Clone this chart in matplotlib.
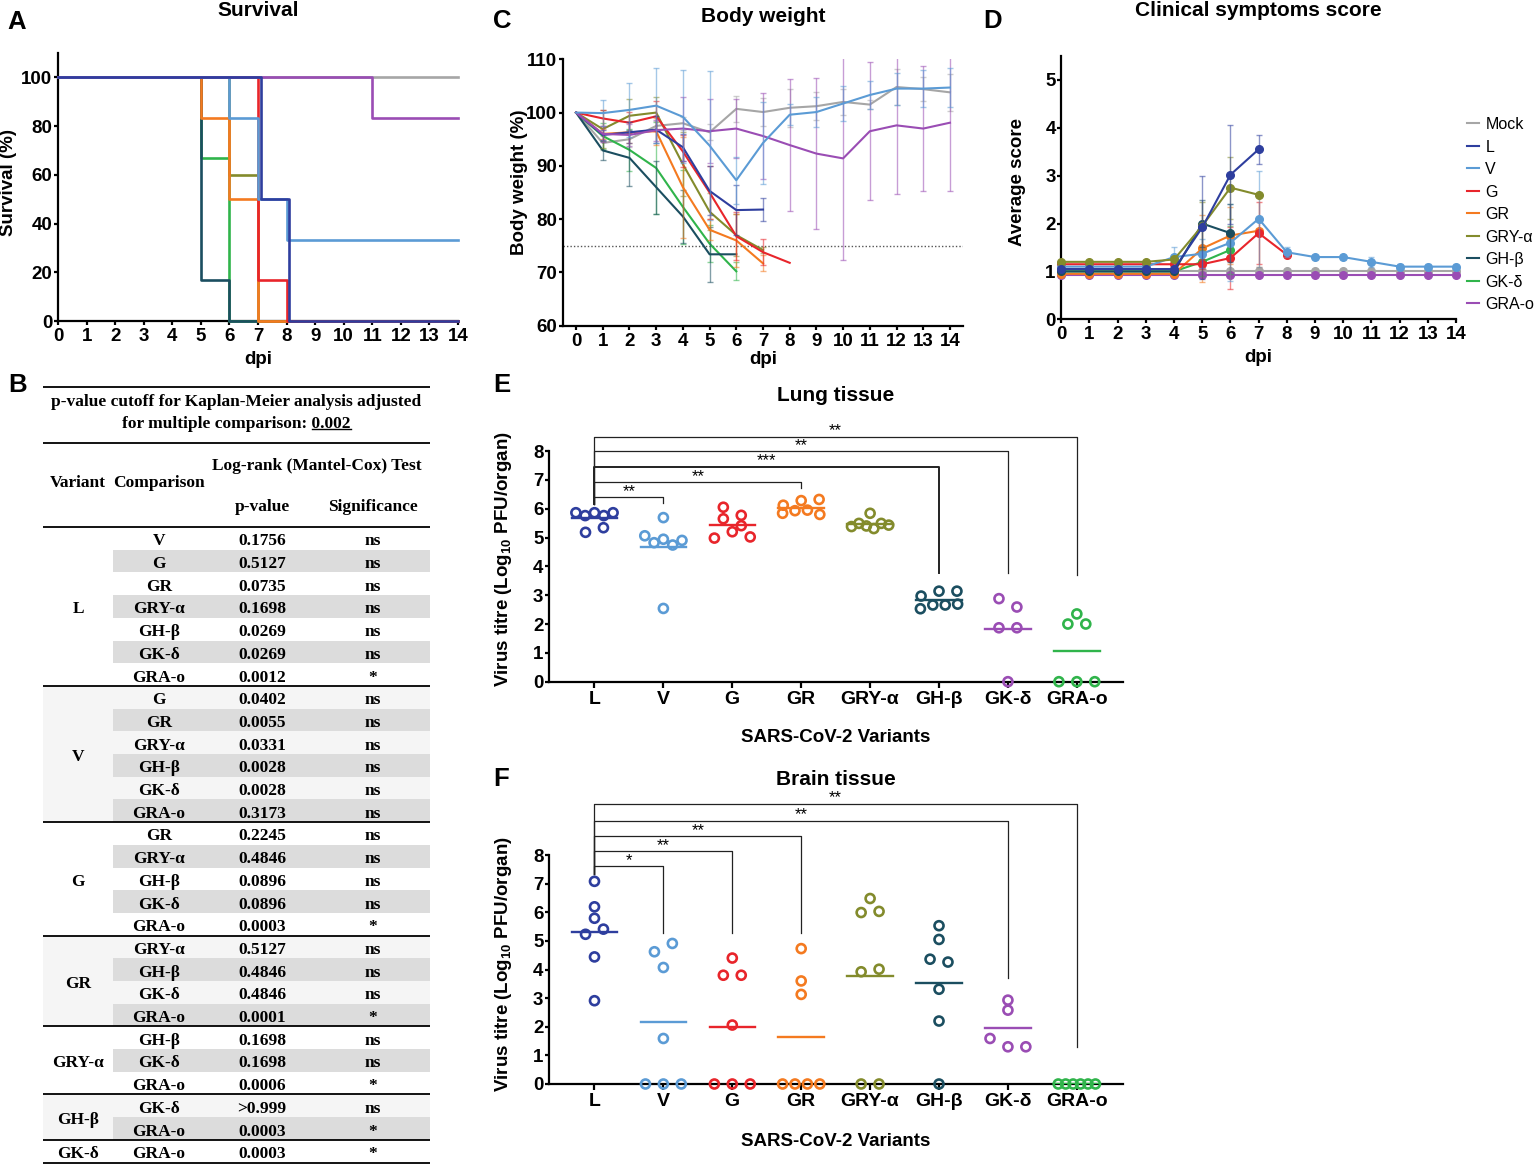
import matplotlib
matplotlib.use('Agg')
import matplotlib.pyplot as plt
from matplotlib.colors import to_rgba
from matplotlib.lines import Line2D
from matplotlib.patches import Rectangle
import numpy as np

plt.rcParams['font.family'] = ['Liberation Sans', 'DejaVu Sans']
plt.rcParams['font.weight'] = 'bold'
plt.rcParams['axes.labelweight'] = 'bold'
plt.rcParams['mathtext.fontset'] = 'custom'
plt.rcParams['mathtext.rm'] = 'Liberation Sans:bold'
plt.rcParams['mathtext.bf'] = 'Liberation Sans:bold'
plt.rcParams['mathtext.default'] = 'bf'

# ---------------------------------------------------------------- data
variants = ['Mock', 'L', 'V', 'G', 'GR', 'GRY-α', 'GH-β', 'GK-δ', 'GRA-o']
colors = ['#A6A6A6', '#2E3E9E', '#5B9BD5', '#E8252B', '#F47A20',
          '#838B2C', '#1B4E60', '#30B44B', '#9A4DB4']
days = list(range(15))

# A: survival (%) - day of each step and survival after it
surv_day_mock = [0];        surv_pct_mock = [100]
surv_day_L = [0, 7, 8];     surv_pct_L = [100, 50, 0]
surv_day_V = [0, 6, 7, 8];  surv_pct_V = [100, 83.3, 50, 33.3]
surv_day_G = [0, 7, 8];     surv_pct_G = [100, 16.7, 0]
surv_day_GR = [0, 5, 6, 7]; surv_pct_GR = [100, 83.3, 50, 0]
surv_day_GRY = [0, 6, 7];   surv_pct_GRY = [100, 60, 0]
surv_day_GH = [0, 5, 6];    surv_pct_GH = [100, 16.7, 0]
surv_day_GK = [0, 5, 6];    surv_pct_GK = [100, 66.7, 0]
surv_day_GRA = [0, 11];     surv_pct_GRA = [100, 83.3]

# C: body weight (%) mean and SD per dpi
bw_mock = [100, 94.3, 95.0, 97.5, 98.0, 96.3, 100.7, 100.1, 100.9, 101.2, 102.0, 101.5, 104.8, 104.4, 103.8]
bw_mock_sd = [0, 1.3, 1.5, 1.0, 1.2, 1.5, 2.5, 2.7, 3.6, 2.6, 2.4, 0.8, 3.3, 2.2, 3.5]
bw_L = [100, 95.8, 96.3, 96.8, 93.5, 85.3, 81.7, 81.8]
bw_L_sd = [0, 1.0, 2.0, 2.5, 2.5, 4.6, 4.7, 2.1]
bw_V = [100, 99.9, 100.5, 101.3, 99.2, 93.8, 87.3, 94.3, 99.6, 100.1, 101.7, 103.3, 104.5, 104.5, 104.7]
bw_V_sd = [0, 2.5, 5.0, 7.0, 8.7, 14.0, 4.4, 7.7, 2.0, 2.8, 3.2, 2.6, 3.0, 3.4, 3.6]
bw_G = [100, 98.9, 98.1, 99.3, 92.7, 85.0, 76.8, 73.8, 71.8]
bw_G_sd = [0, 1.5, 2.0, 2.8, 3.0, 5.0, 4.5, 2.4, 0]
bw_GR = [100, 96.0, 96.3, 96.5, 86.0, 78.0, 76.0, 71.7]
bw_GR_sd = [0, 1.0, 2.0, 2.5, 9.5, 2.0, 5.0, 1.5]
bw_GRY = [100, 96.9, 99.4, 100.0, 90.3, 81.4, 77.0, 74.2]
bw_GRY_sd = [0, 3.5, 3.2, 3.0, 6.0, 3.5, 4.0, 0.5]
bw_GH = [100, 92.9, 91.5, 86.0, 80.5, 73.4, 73.4]
bw_GH_sd = [0, 1.8, 5.3, 5.0, 5.0, 5.2, 0]
bw_GK = [100, 95.6, 93.0, 89.6, 82.3, 75.4, 70.2]
bw_GK_sd = [0, 2.5, 4.0, 8.6, 7.0, 3.5, 1.7]
bw_GRA = [100, 96.0, 95.8, 96.7, 97.0, 96.5, 97.0, 95.6, 93.9, 92.3, 91.4, 96.5, 97.6, 97.0, 98.1]
bw_GRA_sd = [0, 1.5, 2.0, 2.0, 6.0, 6.0, 5.5, 8.0, 12.4, 14.2, 19.0, 13.0, 12.8, 11.8, 12.9]
bw_cutoff = 75

# D: clinical score mean and SD per dpi
cs_mock = [1.0, 1.0, 1.0, 1.0, 1.0, 1.0, 1.0, 1.0, 1.0, 1.0, 1.0, 1.0, 1.0, 1.0, 1.0]
cs_mock_sd = [0, 0, 0, 0, 0, 0, 0, 0, 0, 0, 0, 0, 0, 0, 0]
cs_L = [1.05, 1.05, 1.05, 1.05, 1.05, 1.92, 3.02, 3.55]
cs_L_sd = [0, 0, 0, 0, 0.05, 1.08, 1.03, 0.3]
cs_V = [1.1, 1.1, 1.1, 1.1, 1.3, 1.37, 1.6, 2.1, 1.4, 1.3, 1.3, 1.2, 1.1, 1.1, 1.1]
cs_V_sd = [0, 0, 0, 0, 0.2, 0.3, 0.8, 1.0, 0.1, 0.05, 0.05, 0.1, 0.05, 0.05, 0.05]
cs_G = [1.15, 1.15, 1.15, 1.15, 1.15, 1.15, 1.28, 1.8, 1.35]
cs_G_sd = [0, 0, 0, 0, 0, 0.1, 0.65, 0.65, 0.05]
cs_GR = [0.95, 0.95, 0.95, 0.95, 0.95, 1.48, 1.75, 1.85]
cs_GR_sd = [0, 0, 0, 0, 0, 0.7, 0.6, 0.75]
cs_GRY = [1.2, 1.2, 1.2, 1.2, 1.25, 1.95, 2.75, 2.6]
cs_GRY_sd = [0, 0, 0, 0, 0.05, 0.5, 0.65, 0]
cs_GH = [1.0, 1.0, 1.0, 1.0, 1.0, 2.0, 1.8]
cs_GH_sd = [0, 0, 0, 0, 0, 0.5, 0.6]
cs_GK = [1.0, 1.0, 1.0, 1.0, 1.0, 1.2, 1.45]
cs_GK_sd = [0, 0, 0, 0, 0, 0.3, 0.5]
cs_GRA = [0.92, 0.92, 0.92, 0.92, 0.92, 0.92, 0.92, 0.92, 0.92, 0.92, 0.92, 0.92, 0.92, 0.92, 0.92]
cs_GRA_sd = [0, 0, 0, 0, 0, 0, 0, 0, 0, 0, 0, 0, 0, 0, 0]

# B: log-rank table
tbl_groups = ['L', 'V', 'G', 'GR', 'GRY-α', 'GH-β', 'GK-δ']
tbl_comparisons = [['V', 'G', 'GR', 'GRY-α', 'GH-β', 'GK-δ', 'GRA-o'],
                   ['G', 'GR', 'GRY-α', 'GH-β', 'GK-δ', 'GRA-o'],
                   ['GR', 'GRY-α', 'GH-β', 'GK-δ', 'GRA-o'],
                   ['GRY-α', 'GH-β', 'GK-δ', 'GRA-o'],
                   ['GH-β', 'GK-δ', 'GRA-o'],
                   ['GK-δ', 'GRA-o'],
                   ['GRA-o']]
tbl_pvalues = [['0.1756', '0.5127', '0.0735', '0.1698', '0.0269', '0.0269', '0.0012'],
               ['0.0402', '0.0055', '0.0331', '0.0028', '0.0028', '0.3173'],
               ['0.2245', '0.4846', '0.0896', '0.0896', '0.0003'],
               ['0.5127', '0.4846', '0.4846', '0.0001'],
               ['0.1698', '0.1698', '0.0006'],
               ['>0.999', '0.0003'],
               ['0.0003']]
tbl_signif = [['ns', 'ns', 'ns', 'ns', 'ns', 'ns', '*'],
              ['ns', 'ns', 'ns', 'ns', 'ns', 'ns'],
              ['ns', 'ns', 'ns', 'ns', '*'],
              ['ns', 'ns', 'ns', '*'],
              ['ns', 'ns', '*'],
              ['ns', '*'],
              ['*']]

# E / F: virus titres (log10 PFU/organ)
categories = ['L', 'V', 'G', 'GR', 'GRY-α', 'GH-β', 'GK-δ', 'GRA-o']
cat_colors = ['#2E3E9E', '#5B9BD5', '#E8252B', '#F47A20', '#838B2C', '#1B4E60', '#9A4DB4', '#30B44B']
lung_L = [5.86, 5.76, 5.86, 5.76, 5.86, 5.18, 5.34]
lung_V = [5.06, 4.82, 4.94, 4.74, 4.90, 5.69, 2.54]
lung_G = [6.05, 5.65, 4.98, 5.20, 5.77, 5.41, 5.02]
lung_GR = [5.84, 6.12, 5.93, 6.28, 5.95, 6.32, 5.80]
lung_GRY = [5.38, 5.49, 5.84, 5.40, 5.31, 5.49, 5.43]
lung_GH = [2.97, 2.53, 2.66, 2.66, 3.14, 3.14, 2.69]
lung_GK = [2.88, 2.59, 1.87, 1.87, 0.0]
lung_GRA = [2.0, 2.35, 2.0, 0.0, 0.0, 0.0]
brain_L = [7.08, 6.19, 5.79, 5.23, 5.41, 4.44, 2.91]
brain_V = [4.62, 4.91, 4.07, 1.59, 0.0, 0.0, 0.0]
brain_G = [4.40, 3.80, 3.80, 2.06, 0.0, 0.0, 0.0]
brain_GR = [4.73, 3.60, 3.13, 0.0, 0.0, 0.0, 0.0]
brain_GRY = [6.48, 5.99, 6.03, 3.92, 4.01, 0.0, 0.0]
brain_GH = [5.53, 5.05, 4.36, 4.26, 3.31, 2.20, 0.0]
brain_GK = [2.93, 2.58, 1.59, 1.30, 1.30]
brain_GRA = [0.0, 0.0, 0.0, 0.0, 0.0, 0.0]

# significance brackets (vs L)
lung_br_target = [1, 3, 5, 6, 7]
lung_br_height = [6.39, 6.91, 7.46, 8.0, 8.5]
lung_br_drop = [6.2, 6.7, 3.76, 3.76, 3.7]
lung_br_label = ['**', '**', '***', '**', '**']
brain_br_target = [1, 2, 3, 6, 7]
brain_br_height = [7.6, 8.13, 8.67, 9.2, 9.79]
brain_br_drop = [5.28, 5.28, 5.28, 3.72, 1.28]
brain_br_label = ['*', '**', '**', '**', '**']

# ---------------------------------------------------------------- layout helpers
W, H = 1535, 1165
fig = plt.figure(figsize=(W / 100, H / 100), dpi=100)
TICK_FS = 13.5
LAB_FS = 13.5


def add_ax(l, t, r, b):
    return fig.add_axes([l / W, 1 - b / H, (r - l) / W, (b - t) / H])


def fx(x):
    return x / W


def fy(y):
    return 1 - y / H


def style(ax, fs=TICK_FS):
    for s in ['top', 'right']:
        ax.spines[s].set_visible(False)
    for s in ['left', 'bottom']:
        ax.spines[s].set_linewidth(1.6)
    ax.tick_params(axis='both', width=1.6, length=3, labelsize=fs, direction='out')
    ax.tick_params(axis='x', pad=2.0)
    ax.tick_params(axis='y', pad=1.0)


def set_labels(ax, xl, yl, xc, yc, fs=LAB_FS):
    ax.set_xlabel(xl, fontsize=fs, va='center')
    ax.set_ylabel(yl, fontsize=fs, va='center')
    bb = ax.get_position()
    l, b, w, h = bb.x0 * W, (1 - bb.y1) * H, bb.width * W, bb.height * H
    ax.xaxis.set_label_coords((xc[0] - l) / w, 1 - (xc[1] - b) / h)
    ax.yaxis.set_label_coords((yc[0] - l) / w, 1 - (yc[1] - b) / h)


# table axes (pixel coordinates), drawn first
axT = fig.add_axes([0, 0, 1, 1])
axT.set_xlim(0, W)
axT.set_ylim(H, 0)
axT.axis('off')

# panel letters & titles
for lab, x, y in [('A', 7, 29), ('B', 8, 392), ('C', 493, 28), ('D', 983, 28), ('E', 493, 392), ('F', 493, 786)]:
    fig.text(fx(x), fy(y), lab, fontsize=18.5, fontweight='bold', ha='left', va='baseline')
for t, x, y in [('Survival', 258, 16.5), ('Body weight', 763, 21.5), ('Clinical symptoms score', 1258, 16.5),
                ('Lung tissue', 836, 401.5), ('Brain tissue', 836, 785)]:
    fig.text(fx(x), fy(y), t, fontsize=15, fontweight='bold', ha='center', va='baseline')

# ---------------------------------------------------------------- A: survival
axA = add_ax(58, 53, 458, 321)
surv = [(surv_day_mock, surv_pct_mock), (surv_day_L, surv_pct_L), (surv_day_V, surv_pct_V),
        (surv_day_G, surv_pct_G), (surv_day_GR, surv_pct_GR), (surv_day_GRY, surv_pct_GRY),
        (surv_day_GH, surv_pct_GH), (surv_day_GK, surv_pct_GK), (surv_day_GRA, surv_pct_GRA)]
nudge = {1: 0.09}
draw_order = [0, 7, 6, 5, 4, 3, 2, 8, 1]
for z, i in enumerate(draw_order):
    d, p = surv[i]
    x = np.array(d + [14], float)
    x[1:-1] += nudge.get(i, 0.0)
    y = list(p) + [p[-1]]
    axA.plot(x, y, drawstyle='steps-post', color=colors[i], lw=1.9, clip_on=False, zorder=3 + z)
axA.set_xlim(0, 14)
axA.set_ylim(0, 110)
axA.set_xticks(days)
axA.set_yticks([0, 20, 40, 60, 80, 100])
style(axA)
set_labels(axA, 'dpi', 'Survival (%)', (258, 359), (9, 182))

# ---------------------------------------------------------------- C: body weight
axC = add_ax(562.7, 59.3, 963.3, 325.7)
bw = [(bw_mock, bw_mock_sd), (bw_L, bw_L_sd), (bw_V, bw_V_sd), (bw_G, bw_G_sd), (bw_GR, bw_GR_sd),
      (bw_GRY, bw_GRY_sd), (bw_GH, bw_GH_sd), (bw_GK, bw_GK_sd), (bw_GRA, bw_GRA_sd)]


def draw_series(ax, y, sd, c, z, marker=None, ms=0):
    x = np.arange(len(y))
    y = np.asarray(y, float)
    sd = np.asarray(sd, float)
    m = sd > 0
    if m.any():
        ax.errorbar(x[m], y[m], yerr=sd[m], fmt='none', ecolor=to_rgba(c, 0.55),
                    elinewidth=1.0, capsize=2.5, capthick=1.0, zorder=z - 0.5)
    ax.plot(x, y, color=c, lw=1.5, marker=marker, ms=ms, zorder=z, clip_on=False)


for z, i in enumerate([0, 7, 6, 5, 4, 3, 1, 8, 2]):
    draw_series(axC, bw[i][0], bw[i][1], colors[i], 3 + z)
axC.axhline(bw_cutoff, color='#555555', lw=1.0, ls=(0, (1, 1.5)), zorder=1)
axC.set_xlim(-0.5, 14.5)
axC.set_ylim(60, 110)
axC.set_xticks(days)
axC.set_yticks([60, 70, 80, 90, 100, 110])
style(axC)
set_labels(axC, 'dpi', 'Body weight (%)', (763, 360), (519, 182))

# ---------------------------------------------------------------- D: clinical score
axD = add_ax(1061.3, 56, 1456, 319.3)
cs = [(cs_mock, cs_mock_sd), (cs_L, cs_L_sd), (cs_V, cs_V_sd), (cs_G, cs_G_sd), (cs_GR, cs_GR_sd),
      (cs_GRY, cs_GRY_sd), (cs_GH, cs_GH_sd), (cs_GK, cs_GK_sd), (cs_GRA, cs_GRA_sd)]
for z, i in enumerate([0, 8, 7, 4, 3, 2, 6, 5, 1]):
    draw_series(axD, cs[i][0], cs[i][1], colors[i], 3 + z, marker='o', ms=5.5)
axD.set_xlim(0, 14)
axD.set_ylim(0, 5.5)
axD.set_xticks(days)
axD.set_yticks([0, 1, 2, 3, 4, 5])
style(axD)
set_labels(axD, 'dpi', 'Average score', (1258, 358), (1018, 182))
handles = [Line2D([], [], color=c, lw=1.5) for c in colors]
fig.legend(handles, variants, loc='upper left', bbox_to_anchor=(fx(1467), fy(117)),
           frameon=False, borderaxespad=0, borderpad=0, handlelength=0.75, handletextpad=0.4,
           labelspacing=0.47, prop={'size': 11.5, 'weight': 'normal'})

# ---------------------------------------------------------------- B: table
serif = ['Liberation Serif', 'DejaVu Serif']
tfs = 12.5
x0, x1, xc0 = 43, 430, 113
col_var, col_cmp, col_p, col_sig = 78, 159, 262, 373
rule_lw = 1.3
for yy in [387, 443, 527]:
    axT.plot([x0, x1], [yy, yy], color='black', lw=rule_lw, solid_capstyle='butt')
axT.text(236.5, 400, 'p-value cutoff for Kaplan-Meier analysis adjusted', family=serif,
         fontsize=tfs, fontweight='bold', ha='center', va='center_baseline')
t2 = axT.text(236.5, 422, 'for multiple comparison: 0.002', family=serif,
              fontsize=tfs, fontweight='bold', ha='center', va='center_baseline')
axT.text(317, 464, 'Log-rank (Mantel-Cox) Test', family=serif, fontsize=tfs, fontweight='bold',
         ha='center', va='center_baseline')
axT.text(col_var, 481, 'Variant', family=serif, fontsize=tfs, fontweight='bold', ha='center', va='center_baseline')
axT.text(col_cmp, 481, 'Comparison', family=serif, fontsize=tfs, fontweight='bold', ha='center', va='center_baseline')
axT.text(col_p, 505, 'p-value', family=serif, fontsize=tfs, fontweight='bold', ha='center', va='center_baseline')
axT.text(col_sig, 505, 'Significance', family=serif, fontsize=tfs, fontweight='bold', ha='center', va='center_baseline')

row_h = 22.7
ytop = 527
for g, (grp, cmps, ps, sg) in enumerate(zip(tbl_groups, tbl_comparisons, tbl_pvalues, tbl_signif)):
    n = len(cmps)
    if g % 2 == 1:
        axT.add_patch(Rectangle((x0, ytop), x1 - x0, n * row_h, facecolor='#F5F5F5', edgecolor='none', zorder=0))
    for r in range(n):
        yr = ytop + (r + 0.5) * row_h
        if r % 2 == 1:
            axT.add_patch(Rectangle((xc0, ytop + r * row_h), x1 - xc0, row_h, facecolor='#DCDCDC',
                                    edgecolor='none', zorder=0.5))
        for txt, xx in [(cmps[r], col_cmp), (ps[r], col_p), (sg[r], col_sig)]:
            axT.text(xx, yr + 1, txt, family=serif, fontsize=tfs, fontweight='bold', ha='center',
                     va='center_baseline', zorder=2)
    axT.text(col_var, ytop + n * row_h / 2 + 1, grp, family=serif, fontsize=tfs, fontweight='bold',
             ha='center', va='center_baseline', zorder=2)
    ytop += n * row_h
    axT.plot([x0, x1], [ytop, ytop], color='black', lw=rule_lw, solid_capstyle='butt', zorder=3)

# underline "0.002"
fig.canvas.draw()
ren = fig.canvas.get_renderer()
bb2 = t2.get_window_extent(ren)
tmp = axT.text(0, 0, '0.002', family=serif, fontsize=tfs, fontweight='bold')
wpx = tmp.get_window_extent(ren).width
tmp.remove()
right_px = bb2.x1
uy = H - (bb2.y0 + 3.5)
axT.plot([right_px - wpx, right_px], [uy, uy], color='black', lw=1.0)

# ---------------------------------------------------------------- E / F: titres


def swarm_offsets(vals, thresh=0.33, span=0.54, maxstep=0.26):
    vals = np.asarray(vals, float)
    order = sorted(range(len(vals)), key=lambda k: -vals[k])
    rows = []
    for k in order:
        if rows and vals[rows[-1][0]] - vals[k] <= thresh:
            rows[-1].append(k)
        else:
            rows.append([k])
    offs = np.zeros(len(vals))
    for r in rows:
        r = sorted(r)
        n = len(r)
        if n > 1:
            step = min(maxstep, span / (n - 1))
            for j, k in enumerate(r):
                offs[k] = (j - (n - 1) / 2) * step
    return offs


def titre_panel(ax, groups, br_t, br_h, br_d, br_lab, br_lw, l_bottom, xlab_y, ylab_y):
    for i, vals in enumerate(groups):
        offs = swarm_offsets(vals)
        ax.scatter(i + offs, vals, s=42, facecolors='none', edgecolors=cat_colors[i],
                   linewidths=1.9, clip_on=False, zorder=4)
        m = float(np.mean(vals))
        ax.plot([i - 0.33, i + 0.33], [m, m], color=cat_colors[i], lw=1.7, zorder=3)
    for t, h, d, lab, lw in zip(br_t, br_h, br_d, br_lab, br_lw):
        ax.plot([0, 0, t, t], [l_bottom, h, h, d], color='#222222', lw=lw, clip_on=False, zorder=2)
        ax.text(t / 2, h + 0.04, lab, ha='center', va='baseline', fontsize=12, fontweight='normal')
    ax.set_xlim(-0.66, 7.67)
    ax.set_ylim(0, 8)
    ax.set_xticks(range(len(categories)))
    ax.set_xticklabels(categories)
    ax.set_yticks(range(9))
    style(ax)
    ax.tick_params(axis='x', length=4.5, pad=2.0, labelsize=14)
    set_labels(ax, 'SARS-CoV-2 Variants', r'Virus titre (Log$_{10}$ PFU/organ)',
               (836, xlab_y), (503, ylab_y), fs=13.5)


axE = add_ax(549, 451, 1123, 681.7)
titre_panel(axE, [lung_L, lung_V, lung_G, lung_GR, lung_GRY, lung_GH, lung_GK, lung_GRA],
            lung_br_target, lung_br_height, lung_br_drop, lung_br_label,
            [0.9, 0.9, 1.4, 0.9, 0.9], 6.16, 738, 559)

axF = add_ax(549, 855, 1123, 1084)
titre_panel(axF, [brain_L, brain_V, brain_G, brain_GR, brain_GRY, brain_GH, brain_GK, brain_GRA],
            brain_br_target, brain_br_height, brain_br_drop, brain_br_label,
            [0.9, 0.9, 0.9, 0.9, 0.9], 7.35, 1141.5, 964)

fig.savefig('out.png', dpi=100)
